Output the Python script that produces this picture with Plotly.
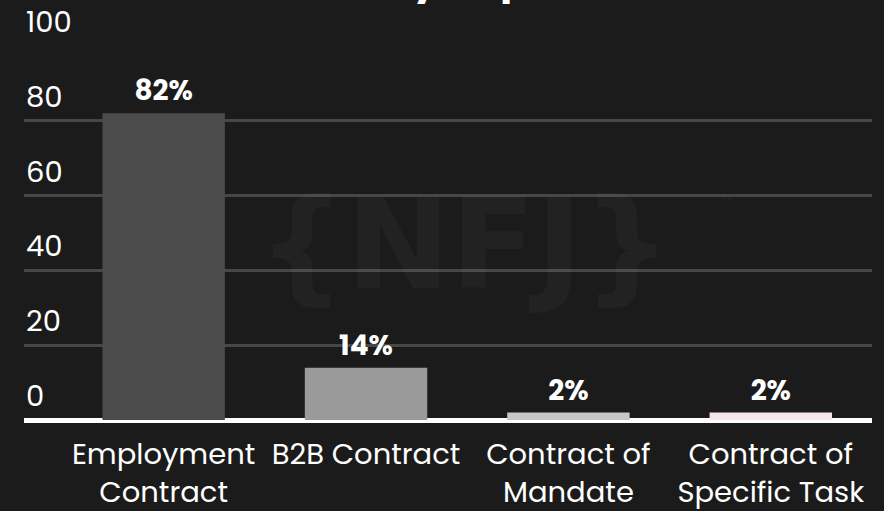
import plotly.graph_objects as go

# Share of respondents by type of contract
categories = ["Employment<br>Contract", "B2B Contract", "Contract of<br>Mandate", "Contract of<br>Specific Task"]
shares = [82, 14, 2, 2]
bar_colors = ["#4b4b4b", "#9a9a9a", "#c8c8c8", "#f3e6e8"]
y_ticks = [0, 20, 40, 60, 80, 100]

BG = "#1b1b1b"
FONT = "Poppins, Inter, 'Open Sans', sans-serif"

fig = go.Figure(
    go.Bar(
        x=categories,
        y=shares,
        marker=dict(color=bar_colors, line=dict(width=0)),
        width=0.605,
        text=[f"{v}%" for v in shares],
        textposition="outside",
        cliponaxis=False,
        textfont=dict(family=FONT, size=28, color="white", weight="bold"),
        hoverinfo="skip",
    )
)

fig.update_layout(
    width=884,
    height=511,
    paper_bgcolor=BG,
    plot_bgcolor=BG,
    margin=dict(l=24, r=12, t=46, b=91, autoexpand=False),
    showlegend=False,
    font=dict(family=FONT, color="white"),
)

fig.update_xaxes(
    range=[-0.69, 3.5],
    automargin=False,
    showgrid=False,
    showline=False,
    ticks="",
    ticklabelstandoff=14,
    tickfont=dict(family=FONT, size=29, color="white"),
    fixedrange=True,
)

fig.update_yaxes(
    range=[0, 100],
    automargin=False,
    tickvals=y_ticks,
    showticklabels=False,
    showgrid=True,
    gridcolor="#474747",
    gridwidth=2.5,
    zeroline=True,
    zerolinecolor="white",
    zerolinewidth=5,
    showline=False,
    ticks="",
    fixedrange=True,
)

# Y tick labels sit just above their gridlines, flush with the left edge
for v in y_ticks:
    fig.add_annotation(
        text=str(v), x=0, y=v, xref="paper", yref="y",
        showarrow=False, xanchor="left", yanchor="middle", yshift=24,
        font=dict(family=FONT, size=29, color="white"),
    )

# Brand watermark behind the bars
fig.add_annotation(
    text="{NFJ}", x=0.52, y=0.47, xref="paper", yref="paper",
    showarrow=False, xanchor="center", yanchor="middle",
    font=dict(family="'DejaVu Sans', sans-serif", size=125, color="rgba(255,255,255,0.03)", weight="bold"),
)
fig.add_annotation(
    text="™", x=0.83, y=0.58, xref="paper", yref="paper",
    showarrow=False, xanchor="center", yanchor="middle",
    font=dict(family="Inter, sans-serif", size=18, color="rgba(255,255,255,0.04)", weight="bold"),
)

# Chart title sitting at the very top edge of the page
fig.add_annotation(
    text="Survey: top contracts", x=0.58, y=1.18, xref="paper", yref="paper",
    showarrow=False, xanchor="center", yanchor="middle",
    font=dict(family=FONT, size=40, color="white", weight="bold"),
)

fig.write_html("out.html")
